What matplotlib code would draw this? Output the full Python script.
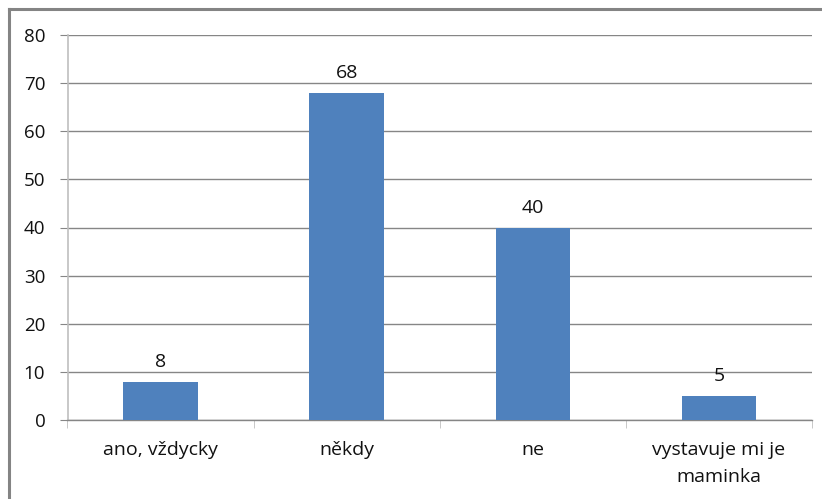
import matplotlib
matplotlib.use("Agg")
import matplotlib.pyplot as plt
from matplotlib.lines import Line2D

categories = ["ano, vždycky", "někdy", "ne", "vystavuje mi je\nmaminka"]
values = [8, 68, 40, 5]
y_ticks = [0, 10, 20, 30, 40, 50, 60, 70, 80]

plt.rcParams["font.family"] = ["Open Sans", "DejaVu Sans"]

W, H = 822, 499
fig = plt.figure(figsize=(W / 100, H / 100), dpi=100)
fig.patch.set_facecolor("white")

# outer chart frame (top and left edges)
fig.add_artist(Line2D([8.5 / W, 8.5 / W], [0, 1 - 8.5 / H], color="#848484", lw=2.2,
                      transform=fig.transFigure))
fig.add_artist(Line2D([8.5 / W, 1], [1 - 8.5 / H, 1 - 8.5 / H], color="#848484", lw=2.2,
                      transform=fig.transFigure))

left, right, top, bottom = 67.5, 812, 35, 420
ax = fig.add_axes([left / W, 1 - bottom / H, (right - left) / W, (bottom - top) / H])

x = list(range(len(categories)))
ax.bar(x, values, width=0.4, color="#4F81BD", zorder=3)
ax.set_xlim(-0.5, len(categories) - 0.5)
ax.set_ylim(0, 80)

ax.set_yticks(y_ticks)
ax.yaxis.grid(True, color="#868686", lw=1)
ax.set_axisbelow(True)

for s in ["top", "right"]:
    ax.spines[s].set_visible(False)
ax.spines["left"].set_color("#BFBFBF")
ax.spines["left"].set_linewidth(1.2)
ax.spines["bottom"].set_color("#868686")
ax.spines["bottom"].set_linewidth(1)

ax.tick_params(axis="y", length=6, color="#868686", labelsize=13.5, pad=10, labelcolor="#111111")
ax.set_xticks(x)
ax.set_xticklabels(categories, fontsize=14, color="#111111", linespacing=1.65)
ax.tick_params(axis="x", length=0, pad=15)
ax.set_xticks([i - 0.5 for i in range(len(categories) + 1)], minor=True)
ax.tick_params(axis="x", which="minor", length=6, color="#BFBFBF")

for xi, v in zip(x, values):
    ax.annotate(str(v), (xi, v), xytext=(0, 10.5), textcoords="offset points",
                ha="center", va="baseline", fontsize=14, color="#111111")

fig.savefig("out.png", dpi=100)
